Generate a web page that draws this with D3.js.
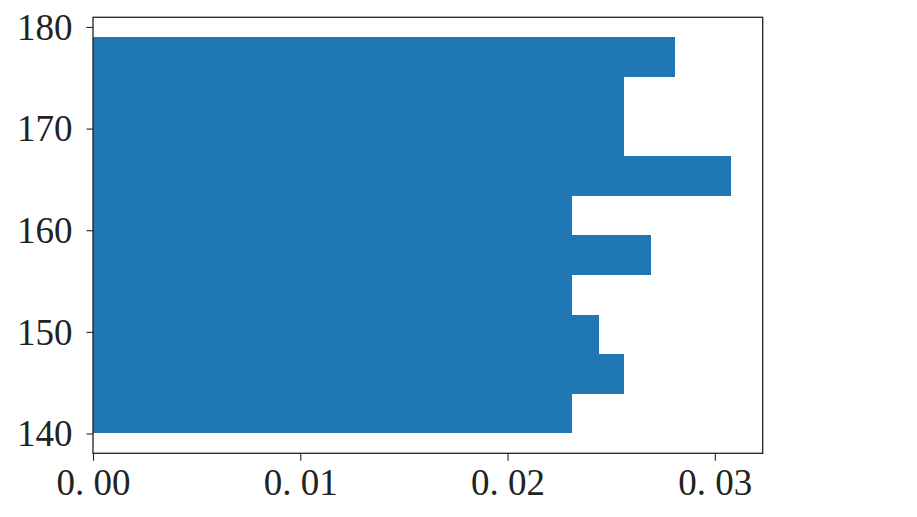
<!DOCTYPE html>
<html>
<head>
<meta charset="utf-8">
<script src="https://cdn.jsdelivr.net/npm/d3@7"></script>
<style>
  body { margin: 0; background: #fff; }
  #chart { width: 917px; height: 517px; }
</style>
</head>
<body>
<div id="chart"></div>
<script>
// histogram bins (height) and their density values, bottom to top
const binEdges = [140, 143.9, 147.8, 151.7, 155.6, 159.5, 163.4, 167.3, 171.2, 175.1, 179];
const densities = [0.0231, 0.0256, 0.0244, 0.0231, 0.0269, 0.0231, 0.03077, 0.0256, 0.0256, 0.0281];
const xTicks = [0, 0.01, 0.02, 0.03];
const yTicks = [140, 150, 160, 170, 180];

function drawChart() {
    const width = 917, height = 517;
    const margin = { top: 17.3, left: 93, right: 154.3, bottom: 63.7 };
    const innerWidth = width - margin.left - margin.right;
    const innerHeight = height - margin.top - margin.bottom;

    const svg = d3.select("#chart")
        .append("svg")
        .attr("width", width)
        .attr("height", height);

    const g = svg.append("g")
        .attr("transform", `translate(${margin.left},${margin.top})`);

    const bins = densities.map((d, i) => ({ y0: binEdges[i], y1: binEdges[i + 1], value: d }));

    // matplotlib style 5% margins
    const yLo = binEdges[0], yHi = binEdges[binEdges.length - 1];
    const pad = (yHi - yLo) * 0.05;
    const y = d3.scaleLinear()
        .domain([yLo - pad, yHi + pad])
        .range([innerHeight, 0]);

    const x = d3.scaleLinear()
        .domain([0, d3.max(densities) * 1.05])
        .range([0, innerWidth]);

    // bars
    g.selectAll("rect.bar")
        .data(bins)
        .enter()
        .append("rect")
            .attr("class", "bar")
            .attr("x", 0)
            .attr("y", d => y(d.y1))
            .attr("width", d => x(d.value))
            .attr("height", d => y(d.y0) - y(d.y1))
            .attr("fill", "#1f77b4")
            .attr("shape-rendering", "crispEdges");

    const font = "'Liberation Serif', 'DejaVu Serif', serif";

    // x axis
    const xAxis = g.append("g")
        .attr("transform", `translate(0,${innerHeight})`)
        .call(d3.axisBottom(x)
            .tickValues(xTicks)
            .tickSize(7.5)
            .tickPadding(8)
            .tickFormat(d => d3.format(".2f")(d).replace(".", ". ")));
    xAxis.select(".domain").remove();
    xAxis.selectAll("text")
        .style("font-family", font)
        .style("font-size", "37px")
        .attr("fill", "#222")
        .attr("dy", "0.71em");
    xAxis.selectAll("line").attr("stroke", "#222").attr("stroke-width", 1.1);

    // y axis
    const yAxis = g.append("g")
        .call(d3.axisLeft(y)
            .tickValues(yTicks)
            .tickSize(6.5)
            .tickPadding(14));
    yAxis.select(".domain").remove();
    yAxis.selectAll("text")
        .style("font-family", font)
        .style("font-size", "37px")
        .attr("fill", "#222")
        .attr("dy", "0.33em");
    yAxis.selectAll("line").attr("stroke", "#222").attr("stroke-width", 1.1);

    // frame
    g.append("rect")
        .attr("x", 0)
        .attr("y", 0)
        .attr("width", innerWidth)
        .attr("height", innerHeight)
        .attr("fill", "none")
        .attr("stroke", "#222")
        .attr("stroke-width", 1.3);
}

drawChart();
</script>
</body>
</html>
